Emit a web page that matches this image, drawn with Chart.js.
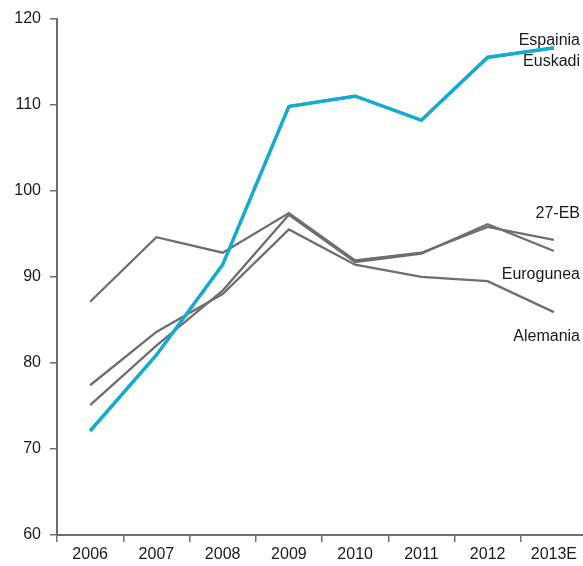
<!DOCTYPE html>
<html>
<head>
<meta charset="utf-8">
<script src="https://cdn.jsdelivr.net/npm/chart.js@4"></script>
<style>
  html, body { margin: 0; padding: 0; background: #fff; overflow: hidden; }
  #wrap { width: 600px; height: 566px; }
</style>
</head>
<body>
<div id="wrap"><canvas id="line-chart"></canvas></div>
<script>
const years = ['2006', '2007', '2008', '2009', '2010', '2011', '2012', '2013E'];

const euskadi   = [72.1, 80.9, 91.4, 109.8, 111.0, 108.2, 115.5, 116.6];
const espainia  = [72.1, 80.9, 91.4, 109.8, 111.0, 108.2, 115.5, 116.6];
const eb27      = [87.1, 94.6, 92.8, 97.4, 91.9, 92.8, 95.8, 94.3];
const eurogunea = [75.1, 82.0, 88.4, 97.2, 91.7, 92.7, 96.1, 93.0];
const alemania  = [77.4, 83.6, 88.0, 95.5, 91.4, 90.0, 89.5, 85.9];

const yTicks = [60, 70, 80, 90, 100, 110, 120];

// text next to the line ends: [text, y value]
const endLabels = [
    ['Espainia', 117.4],
    ['Euskadi', 115.0],
    ['27-EB', 97.3],
    ['Eurogunea', 90.2],
    ['Alemania', 83.0]
];

const FONT = '"Liberation Sans", Arial, sans-serif';
const GREY = '#6e6e6e';
const BLUE = '#12acd0';

const labelPlugin = {
    id: 'endLabels',
    afterDatasetsDraw(chart) {
        const ctx = chart.ctx;
        const y = chart.scales.y;
        ctx.save();
        ctx.font = '16px ' + FONT;
        ctx.fillStyle = '#1a1a1a';
        ctx.textAlign = 'right';
        ctx.textBaseline = 'middle';
        endLabels.forEach(function (l) {
            ctx.fillText(l[0], 580, y.getPixelForValue(l[1]));
        });
        ctx.restore();
    }
};

function greyLine(label, data) {
    return {label: label, data: data, borderColor: GREY, borderWidth: 2.3, pointRadius: 0, tension: 0, order: 2};
}

const ctx = document.getElementById('line-chart');
new Chart(ctx, {
    type: 'line',
    data: {
        labels: years,
        datasets: [
            greyLine('27-EB', eb27),
            greyLine('Eurogunea', eurogunea),
            greyLine('Alemania', alemania),
            {label: 'Espainia', data: espainia, borderColor: BLUE, borderWidth: 3.2, pointRadius: 0, tension: 0, order: 1},
            {label: 'Euskadi', data: euskadi, borderColor: BLUE, borderWidth: 3.2, pointRadius: 0, tension: 0, order: 0}
        ]
    },
    options: {
        responsive: true,
        maintainAspectRatio: false,
        animation: false,
        layout: {padding: {top: 18, right: 13, left: 0, bottom: 0}},
        plugins: {legend: {display: false}, tooltip: {enabled: false}},
        scales: {
            x: {
                offset: true,
                grid: {offset: true, drawOnChartArea: false, color: GREY, tickLength: 7, lineWidth: 1.5},
                border: {color: GREY, width: 2},
                ticks: {color: '#1a1a1a', font: {family: FONT, size: 16}, padding: 3, maxRotation: 0},
                afterFit: function (s) { s.height = 31; }
            },
            y: {
                min: 60,
                max: 120,
                afterBuildTicks: function (s) { s.ticks = yTicks.map(function (v) { return {value: v}; }); },
                grid: {drawOnChartArea: false, color: GREY, tickLength: 7, lineWidth: 1.5},
                border: {color: GREY, width: 2},
                ticks: {color: '#1a1a1a', font: {family: FONT, size: 16}, padding: 9},
                afterFit: function (s) { s.width = 57; }
            }
        }
    },
    plugins: [labelPlugin]
});
</script>
</body>
</html>
